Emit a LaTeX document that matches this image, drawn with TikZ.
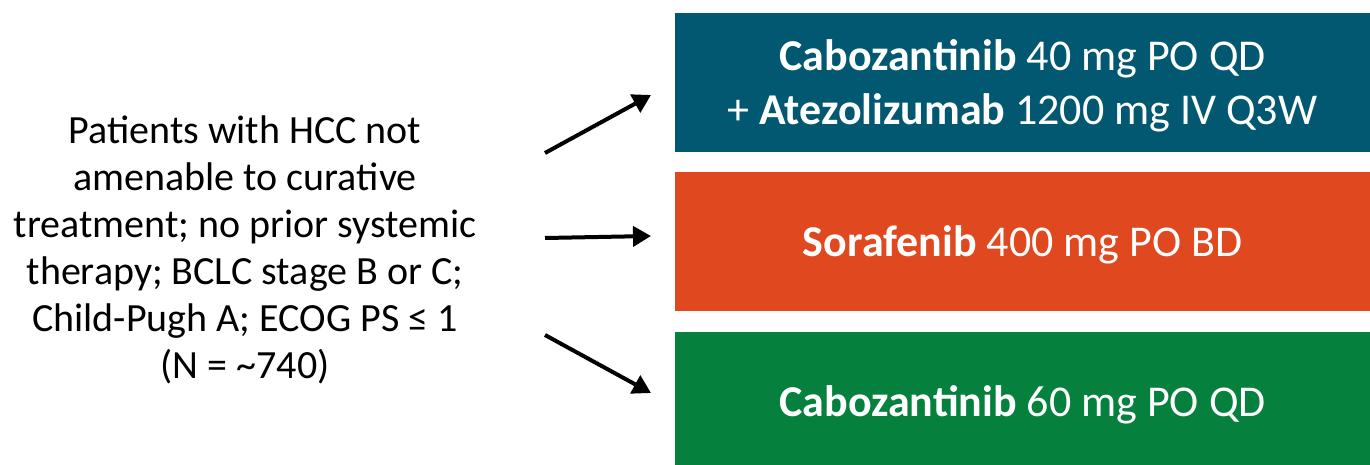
\documentclass[tikz,border=0pt]{standalone}
\usepackage{fontspec}
\setmainfont{Carlito}
\usetikzlibrary{arrows.meta}
\definecolor{armA}{HTML}{035871}
\definecolor{armB}{HTML}{E0481F}
\definecolor{armC}{HTML}{06803D}
\begin{document}
\begin{tikzpicture}[x=1pt,y=-1pt,
  armbox/.style={fill=#1, draw=none, text=white, align=center,
    font=\fontsize{44}{54}\selectfont, inner sep=0pt,
    minimum width=695pt, minimum height=139pt},
  arr/.style={line width=4pt, -{Triangle[length=18pt,width=20pt]}}]
\useasboundingbox (0,0) rectangle (1370,465);
\node[align=center, font=\fontsize{40}{47}\selectfont] (pat) at (245,250)
  {Patients with HCC not\\amenable to curative\\treatment; no prior systemic\\therapy; BCLC stage B or C;\\Child-Pugh A; ECOG PS ≤ 1\\(N = \textasciitilde740)};
\path[fill=armA] (675,13) rectangle (1370,152);
\path[fill=armB] (675,172) rectangle (1370,311);
\path[fill=armC] (675,332) rectangle (1370,465);
\node[armbox=armA, fill=none, minimum height=0pt] (a1) at (1022.5,86)
  {\textbf{Cabozantinib} 40 mg PO QD\\+ \textbf{Atezolizumab} 1200 mg IV Q3W};
\node[armbox=armB, fill=none, minimum height=0pt] (a2) at (1022.5,244.5)
  {\textbf{Sorafenib} 400 mg PO BD};
\node[armbox=armC, fill=none, minimum height=0pt] (a3) at (1022.5,404.5)
  {\textbf{Cabozantinib} 60 mg PO QD};
\coordinate (s1) at (545,153);
\coordinate (e1) at (651,95);
\coordinate (s2) at (545,238);
\coordinate (e2) at (651,236);
\coordinate (s3) at (545,335);
\coordinate (e3) at (651,393);
\draw[arr] (s1) -- (e1);
\draw[arr] (s2) -- (e2);
\draw[arr] (s3) -- (e3);
\end{tikzpicture}
\end{document}
